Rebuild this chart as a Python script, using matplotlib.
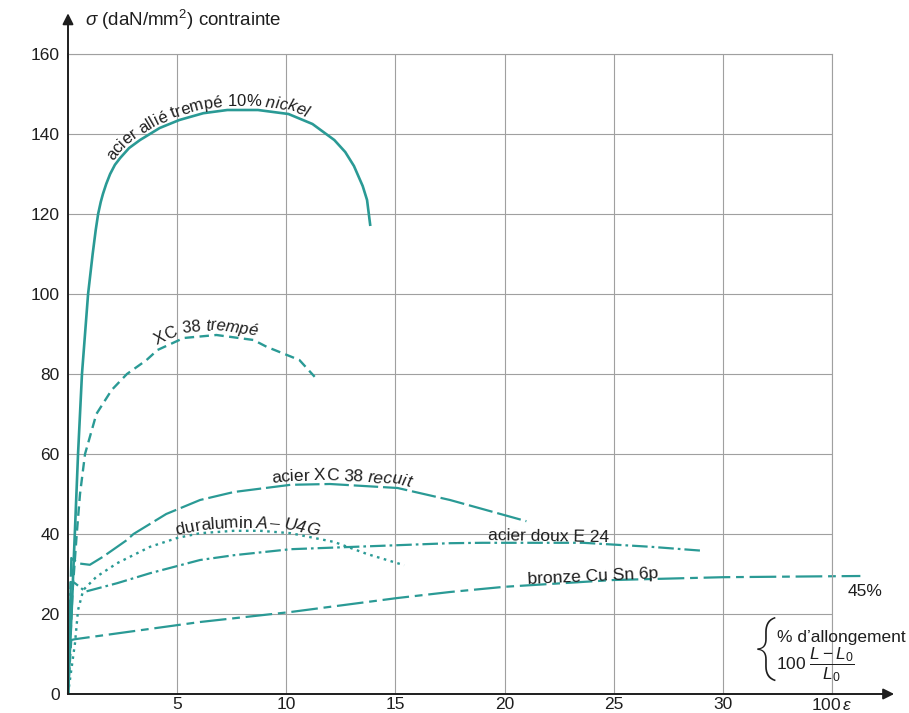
import numpy as np
import matplotlib
matplotlib.use("Agg")
import matplotlib.pyplot as plt
from matplotlib import ft2font, font_manager
from matplotlib.font_manager import FontProperties
from matplotlib.transforms import IdentityTransform

plt.rcParams['font.family'] = ['Liberation Sans', 'DejaVu Sans']
plt.rcParams['mathtext.fontset'] = 'custom'
plt.rcParams['mathtext.rm'] = 'Liberation Sans'
plt.rcParams['mathtext.it'] = 'Liberation Sans:italic'

# strain (%) / stress (daN/mm2)
nickel_x = [0, 0.2, 0.46, 0.64, 0.92, 1.13, 1.27, 1.38, 1.5, 1.6, 1.75, 1.93, 2.15, 2.39, 2.8, 3.3,
            4.2, 5.1, 6.2, 7.3, 8.7, 10.1, 11.2, 12.2, 12.7, 13.1, 13.5, 13.7, 13.85]
nickel_y = [0, 25, 60, 80, 100, 110, 116, 120, 123, 125, 127.5, 130, 132.3, 134, 136.5, 138.5,
            141.5, 143.5, 145.2, 146, 146, 145, 142.5, 138.5, 135.5, 132, 127, 123.5, 117]

xc38t_x = [0, 0.2, 0.4, 0.55, 0.78, 1.3, 2.0, 2.7, 3.6, 4.1, 5.3, 6.8, 8.5, 9.1, 10.6, 11.3]
xc38t_y = [0, 25, 40, 50, 60, 70, 76, 80, 83.5, 86, 89, 89.75, 88.5, 86.8, 83.5, 79.3]

xc38r_x = [0, 0.15, 0.25, 0.55, 1.0, 1.6, 2.7, 3.0, 4.5, 6.05, 7.6, 10.2, 12, 15.1, 17.5, 21]
xc38r_y = [0, 34, 33.5, 32.6, 32.3, 34.3, 38.5, 40, 45, 48.5, 50.5, 52.3, 52.5, 51.5, 48.5, 43.2]

dural_x = [0, 0.1, 0.32, 0.46, 0.7, 1.3, 2.25, 3.76, 5.0, 6.05, 7.6, 8.8, 10.2, 12.2, 13.7, 15.4]
dural_y = [0, 4, 12.7, 21, 26, 29.3, 32.7, 36.8, 39, 40.2, 40.8, 40.8, 40.2, 38, 35, 32.2]

e24_x = [0, 0.12, 0.32, 0.8, 2.25, 3.76, 6.05, 7.6, 10.2, 15.1, 17.5, 19, 23.6, 26.7, 29.1]
e24_y = [0, 28, 27.7, 25.6, 27.7, 30.2, 33.5, 34.7, 36.2, 37.2, 37.7, 37.8, 37.8, 36.8, 35.8]

bronze_x = [0, 0.15, 0.32, 6.05, 10.2, 15.1, 17.5, 20, 25, 30, 36.3]
bronze_y = [0, 13.5, 13.7, 18, 20.5, 24, 25.5, 26.8, 28.5, 29.2, 29.5]

x_ticks = [5, 10, 15, 20, 25, 30, 35]
x_labels = ['5', '10', '15', '20', '25', '30', r'100$\,\varepsilon$']
y_ticks = [0, 20, 40, 60, 80, 100, 120, 140, 160]

teal = '#2a9a95'
ink = '#1e1e1e'
fs = 12.5

fig = plt.figure(figsize=(9.09, 7.13), dpi=100)
ax = fig.add_axes([68 / 909, 19 / 713, 764 / 909, 640 / 713])
ax.set_xlim(0, 35)
ax.set_ylim(0, 160)

ax.plot(nickel_x, nickel_y, color=teal, lw=1.9, solid_capstyle='butt')
ax.plot(xc38t_x, xc38t_y, color=teal, lw=1.7, linestyle=(0, (4, 2.3)))
ax.plot(xc38r_x, xc38r_y, color=teal, lw=1.6, linestyle=(0, (11, 2.2)))
ax.plot(dural_x, dural_y, color=teal, lw=1.7, linestyle=(0, (1.1, 1.9)))
ax.plot(e24_x, e24_y, color=teal, lw=1.6, linestyle=(0, (7, 1.8, 1.2, 1.8)))
ax.plot(bronze_x, bronze_y, color=teal, lw=1.6, linestyle=(0, (12, 2.6, 3.5, 2.6)), clip_on=False)

ax.set_xticks(x_ticks)
ax.set_xticklabels(x_labels)
ax.set_yticks(y_ticks)
ax.tick_params(axis='both', length=0, labelsize=fs, colors=ink)
ax.tick_params(axis='x', pad=2)
ax.tick_params(axis='y', pad=6)
ax.grid(True, color='#a0a0a0', lw=0.8)
ax.set_axisbelow(True)
for side in ['top', 'right']:
    ax.spines[side].set_color('#a0a0a0')
    ax.spines[side].set_linewidth(0.8)
for side in ['left', 'bottom']:
    ax.spines[side].set_color(ink)
    ax.spines[side].set_linewidth(1.4)

# axis arrows
ax.annotate('', xy=(1.085, 0), xytext=(0.99, 0), xycoords='axes fraction',
            arrowprops=dict(arrowstyle='-|>', color=ink, lw=1.4, mutation_scale=16))
ax.annotate('', xy=(0, 1.068), xytext=(0, 0.99), xycoords='axes fraction',
            arrowprops=dict(arrowstyle='-|>', color=ink, lw=1.4, mutation_scale=16))

ax.text(0.022, 1.044, r'$\sigma$ (daN/mm$^2$) contrainte', transform=ax.transAxes,
        fontsize=13.5, color=ink, ha='left', va='baseline')

try:
    no_hint = ft2font.LoadFlags.NO_HINTING
except AttributeError:
    no_hint = ft2font.LOAD_NO_HINTING


def glyph(ch, prop):
    f = ft2font.FT2Font(font_manager.findfont(prop))
    f.set_size(prop.get_size_in_points(), fig.dpi)
    g = f.load_char(ord(ch), flags=no_hint)
    adv = g.linearHoriAdvance / 65536
    mid = g.horiBearingX / 64 + g.width / 128
    return adv, mid


def text_along(xs, ys, parts, x_start, offset, size):
    # walk an offset copy of the curve (display pixels) and drop one glyph per step
    pts = ax.transData.transform(np.column_stack([xs, ys]))
    seg = np.diff(pts, axis=0)
    seg = seg / np.hypot(seg[:, 0], seg[:, 1])[:, None]
    tang = np.vstack([seg[:1], seg[:-1] + seg[1:], seg[-1:]])
    tang = tang / np.hypot(tang[:, 0], tang[:, 1])[:, None]
    base = pts + np.column_stack([-tang[:, 1], tang[:, 0]]) * offset
    d = np.diff(base, axis=0)
    cum = np.concatenate([[0], np.cumsum(np.hypot(d[:, 0], d[:, 1]))])
    px0 = ax.transData.transform((x_start, 0))[0]
    s = np.interp(px0, pts[:, 0], cum)

    def at(v):
        return np.interp(v, cum, base[:, 0]), np.interp(v, cum, base[:, 1])

    for chunk, style in parts:
        prop = FontProperties(family='Liberation Sans', size=size, style=style)
        for ch in chunk:
            adv, mid = glyph(ch, prop)
            if ch != ' ':
                xa, ya = at(s + mid - 5)
                xb, yb = at(s + mid + 5)
                ang = np.arctan2(yb - ya, xb - xa)
                xc, yc = at(s + mid)
                ax.text(xc, yc, ch, transform=IdentityTransform(), rotation=np.degrees(ang),
                        rotation_mode='anchor', ha='center', va='baseline',
                        fontsize=size, fontstyle=style, color=ink)
            s += adv


text_along(nickel_x, nickel_y, [('acier allié trempé 10% ', 'normal'), ('nickel', 'italic')], 2.2, 4, 12)
text_along(xc38t_x, xc38t_y, [('XC 38 ', 'normal'), ('trempé', 'italic')], 4.2, 5, 12)
text_along(xc38r_x, xc38r_y, [('acier XC 38 ', 'normal'), ('recuit', 'italic')], 9.35, 4, fs)
text_along(dural_x, dural_y, [('duralumin ', 'normal'), ('A– U4G', 'italic')], 5.0, 3, fs)

ax.text(19.24, 38.6, 'acier doux E 24', fontsize=fs, color=ink, rotation=-1,
        rotation_mode='anchor', ha='left', va='baseline')
ax.text(21.05, 27.6, 'bronze Cu Sn 6p', fontsize=fs, color=ink, rotation=2.6,
        rotation_mode='anchor', ha='left', va='baseline')
ax.text(35.73, 24.5, '45%', fontsize=fs, color=ink, ha='left', va='baseline', clip_on=False)

ax.text(31.95, 11.3, '{', fontsize=46, color=ink, ha='center', va='center',
        family=['Roboto', 'Liberation Sans'], fontweight='light')
ax.text(32.48, 13.0, '% d’allongement', fontsize=fs, color=ink, ha='left', va='baseline', clip_on=False)
ax.text(32.45, 7.3, r'100 $\dfrac{L-L_0}{L_0}$', fontsize=fs, color=ink, ha='left', va='center', clip_on=False)

fig.savefig('out.png', dpi=100, facecolor='white')
